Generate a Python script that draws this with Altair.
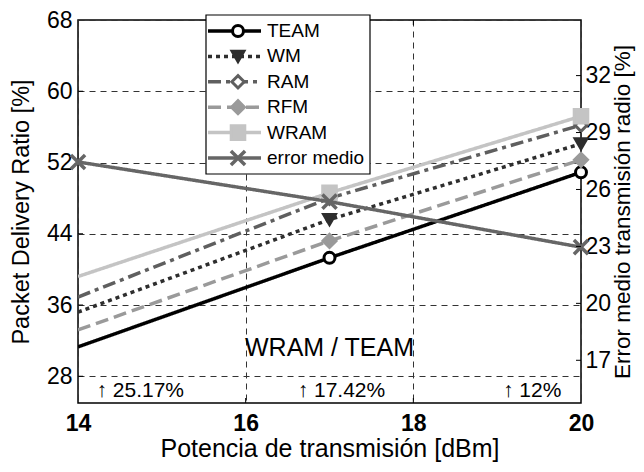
import altair as alt
import pandas as pd

# ---------------- data ----------------
power = [14, 17, 20]
names = ["TEAM", "WM", "RAM", "RFM", "WRAM"]
team = [31.3, 41.3, 50.9]
wm = [35.2, 45.6, 54.1]
ram = [36.9, 48.0, 56.2]
rfm = [33.2, 43.2, 52.3]
wram = [39.2, 48.6, 57.2]
error_name = "error medio"
error_medio = [27.45, 25.36, 22.96]

left_ticks = [28, 36, 44, 52, 60, 68]
right_ticks = [17, 20, 23, 26, 29, 32]
x_ticks = [14, 16, 18, 20]

ratio_label = ["WRAM / TEAM"]
ratio_x = [17.0]
ratio_y = [31.2]
gain_labels = ["\u2191 25.17%", "\u2191 17.42%", "\u2191 12%"]
gain_x = [14.22, 16.62, 19.07]
gain_y = [26.3, 26.3, 26.3]

all_names = names + [error_name]

# ---------------- tables ----------------
rows = []
for nm, vals in zip(names, [team, wm, ram, rfm, wram]):
    for xv, yv in zip(power, vals):
        rows.append({"x": xv, "y": yv, "series": nm})
main_df = pd.DataFrame(rows)
err_df = pd.DataFrame({"x": power, "y": error_medio, "series": [error_name] * 3})
ratio_df = pd.DataFrame({"x": ratio_x, "y": ratio_y, "label": ratio_label})
gain_df = pd.DataFrame({"x": gain_x, "y": gain_y, "label": gain_labels})
leg_df = pd.DataFrame({"series": all_names, "row": list(range(len(all_names)))})
lt_df = pd.DataFrame({"y": left_ticks[:-1]})
rt_df = pd.DataFrame({"y": right_ticks})
xt_df = pd.DataFrame({"x": x_ticks[1:-1]})

W, H = 503, 383
FONT = "Liberation Sans"

# ---------------- shared scales ----------------
color_scale = alt.Scale(domain=all_names,
                        range=["#000000", "#2e2e2e", "#5f5f5f", "#9a9a9a", "#c4c4c4", "#666666"])
dash_scale = alt.Scale(domain=all_names,
                       range=[[1, 0], [4, 4], [13, 5, 4, 5], [13, 6], [1, 0], [1, 0]])
x_path = "M-1,-1L1,1M-1,1L1,-1"
shape_scale = alt.Scale(domain=all_names,
                        range=["circle", "triangle-down", "diamond", "diamond", "square", x_path])
fill_scale = alt.Scale(domain=all_names,
                       range=["#ffffff", "#2e2e2e", "#ffffff", "#9a9a9a", "#c4c4c4", "transparent"])
size_scale = alt.Scale(domain=all_names, range=[120, 200, 150, 60, 190, 110])

color = alt.Color("series:N", scale=color_scale, legend=None)
stroke = alt.Stroke("series:N", scale=color_scale, legend=None)
dash = alt.StrokeDash("series:N", scale=dash_scale, legend=None)
shape = alt.Shape("series:N", scale=shape_scale, legend=None)
fill = alt.Fill("series:N", scale=fill_scale, legend=None)
size = alt.Size("series:N", scale=size_scale, legend=None)

x_enc = alt.X("x:Q",
              scale=alt.Scale(domain=[14, 20], nice=False, zero=False),
              axis=alt.Axis(values=x_ticks, format="d", title="Potencia de transmisión [dBm]",
                            labelFontWeight="bold", labelPadding=9, titlePadding=1,
                            titleFontSize=25, labelFlush=False,
                            grid=True, gridDash=[6, 5], gridColor="#333333", gridWidth=1))
y_left = alt.Y("y:Q",
               scale=alt.Scale(domain=[25, 68], nice=False, zero=False),
               axis=alt.Axis(values=left_ticks, format="d", title="Packet Delivery Ratio [%]",
                             labelPadding=6, titlePadding=13, labelFlush=False,
                             titleFontSize=23.5,
                             grid=True, gridDash=[6, 5], gridColor="#333333", gridWidth=1))
y_right = alt.Y("y:Q",
                scale=alt.Scale(domain=[14.75, 34.93], nice=False, zero=False),
                axis=alt.Axis(values=right_ticks, format="d", orient="right",
                              title="Error medio transmisión radio [%]",
                              titleAngle=270, titleBaseline="top", titleFontSize=22.5,
                              labelPadding=4, titlePadding=1, labelFlush=False, grid=False))

# ---------------- left group ----------------
lines = alt.Chart(main_df).mark_line(strokeWidth=3.5, clip=True).encode(
    x=x_enc, y=y_left, color=color, strokeDash=dash, order=alt.Order("x:Q"))
markers = alt.Chart(main_df).transform_filter(alt.datum.x > 14).mark_point(
    filled=True, strokeWidth=3, opacity=1).encode(
    x=x_enc, y=y_left, shape=shape, fill=fill, stroke=stroke, size=size)
ratio_txt = alt.Chart(ratio_df).mark_text(font=FONT, fontSize=25, align="center",
                                          baseline="middle", color="black").encode(
    x="x:Q", y="y:Q", text="label:N")
gain_txt = alt.Chart(gain_df).mark_text(font=FONT, fontSize=21, align="left",
                                        baseline="middle", color="black").encode(
    x="x:Q", y="y:Q", text="label:N")
lt = alt.Chart(lt_df).mark_rule(color="black", strokeWidth=1).encode(
    y="y:Q", x=alt.value(0), x2=alt.value(5))
bt = alt.Chart(xt_df).mark_rule(color="black", strokeWidth=1).encode(
    x="x:Q", y=alt.value(H - 5), y2=alt.value(H))
tt = alt.Chart(xt_df).mark_rule(color="black", strokeWidth=1).encode(
    x="x:Q", y=alt.value(0), y2=alt.value(5))
left_group = alt.layer(lines, markers, ratio_txt, gain_txt, lt, bt, tt)

# ---------------- right group ----------------
err_line = alt.Chart(err_df).mark_line(strokeWidth=3.5).encode(
    x=x_enc, y=y_right, color=color, strokeDash=dash)
err_pts = alt.Chart(err_df).mark_point(filled=False, strokeWidth=3.5, opacity=1).encode(
    x=x_enc, y=y_right, shape=shape, stroke=stroke, size=size, fill=fill)
rt = alt.Chart(rt_df).mark_rule(color="black", strokeWidth=1).encode(
    y="y:Q", x=alt.value(W - 5), x2=alt.value(W))
right_group = alt.layer(err_line, err_pts, rt)

# ---------------- legend group ----------------
leg_y = alt.Y("row:Q", scale=alt.Scale(domain=[0, 5], range=[11, 138]), axis=None)
leg_box = alt.Chart(pd.DataFrame({"a": [0]})).mark_rect(
    fill="white", stroke="black", strokeWidth=1.2).encode(
    x=alt.value(128), x2=alt.value(292), y=alt.value(-5), y2=alt.value(154))
leg_lines = alt.Chart(leg_df).mark_rule(strokeWidth=3.5).encode(
    y=leg_y, x=alt.value(130), x2=alt.value(183), color=color, strokeDash=dash)
leg_pts5 = alt.Chart(leg_df).transform_filter(alt.datum.row < 5).mark_point(
    filled=True, strokeWidth=3, opacity=1).encode(
    y=leg_y, x=alt.value(160), shape=shape, fill=fill, stroke=stroke, size=size)
leg_pt_err = alt.Chart(leg_df).transform_filter(alt.datum.row == 5).mark_point(
    filled=False, strokeWidth=3.5, opacity=1).encode(
    y=leg_y, x=alt.value(160), shape=shape, stroke=stroke, size=size, fill=fill)
leg_txt = alt.Chart(leg_df).mark_text(font=FONT, fontSize=19, align="left",
                                      baseline="middle", color="black").encode(
    y=leg_y, x=alt.value(189), text="series:N")
legend_group = alt.layer(leg_box, leg_lines, leg_pts5, leg_pt_err, leg_txt)

chart = alt.layer(left_group, right_group, legend_group).resolve_scale(
    y="independent"
).properties(
    width=W, height=H,
    autosize=alt.AutoSizeParams(type="none"),
    padding={"left": 70, "top": 12, "right": 55, "bottom": 64},
).configure_view(
    stroke="black", strokeWidth=1.5
).configure_axis(
    labelFont=FONT, titleFont=FONT, labelFontSize=23,
    titleFontWeight="normal", labelColor="black", titleColor="black",
    ticks=False, domain=False
)

chart.save("out.html", embed_options={"renderer": "svg", "actions": False})
